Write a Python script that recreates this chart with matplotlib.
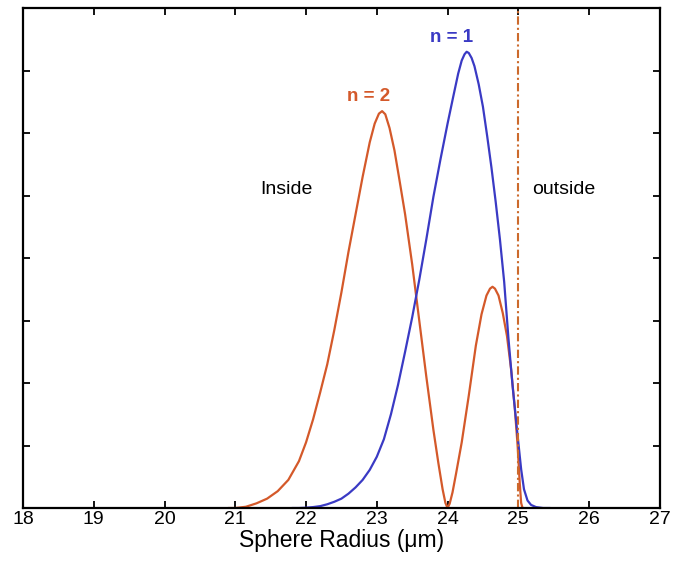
import matplotlib
matplotlib.use("Agg")
import matplotlib.pyplot as plt

# n = 2 curve (orange)
n2_x = [20.90, 21.00, 21.15, 21.30, 21.45, 21.60, 21.75, 21.90, 22.00, 22.10, 22.20, 22.30,
        22.40, 22.50, 22.60, 22.70, 22.80, 22.90, 22.97, 23.03, 23.075, 23.12, 23.18, 23.25,
        23.32, 23.40, 23.50, 23.60, 23.70, 23.80, 23.87, 23.93, 23.97, 24.00, 24.03, 24.07,
        24.12, 24.20, 24.30, 24.40, 24.48, 24.55, 24.60, 24.635, 24.67, 24.72, 24.78, 24.84,
        24.90, 24.95, 24.99, 25.02, 25.04, 25.06]
n2_y = [0.00, 0.00, 0.02, 0.075, 0.15, 0.27, 0.45, 0.75, 1.05, 1.42, 1.85, 2.30,
        2.85, 3.45, 4.10, 4.70, 5.30, 5.85, 6.15, 6.31, 6.35, 6.30, 6.08, 5.72,
        5.25, 4.70, 3.90, 3.00, 2.10, 1.25, 0.72, 0.30, 0.08, 0.00, 0.07, 0.25,
        0.55, 1.05, 1.80, 2.60, 3.10, 3.40, 3.51, 3.54, 3.51, 3.40, 3.12, 2.75,
        2.20, 1.60, 1.00, 0.40, 0.08, 0.00]

# n = 1 curve (blue)
n1_x = [21.80, 21.90, 22.00, 22.10, 22.20, 22.30, 22.40, 22.50, 22.60, 22.70, 22.80, 22.90,
        23.00, 23.10, 23.20, 23.30, 23.40, 23.50, 23.60, 23.70, 23.80, 23.90, 24.00, 24.08,
        24.15, 24.20, 24.24, 24.27, 24.30, 24.34, 24.38, 24.44, 24.50, 24.56, 24.62, 24.68,
        24.74, 24.80, 24.86, 24.92, 24.97, 25.00, 25.04, 25.08, 25.13, 25.18, 25.25, 25.35,
        25.45]
n1_y = [0.00, 0.00, 0.005, 0.015, 0.03, 0.06, 0.10, 0.15, 0.23, 0.33, 0.45, 0.61,
        0.82, 1.10, 1.50, 1.97, 2.50, 3.05, 3.65, 4.30, 4.98, 5.58, 6.15, 6.58,
        6.95, 7.16, 7.26, 7.30, 7.28, 7.20, 7.07, 6.78, 6.42, 5.95, 5.45, 4.90,
        4.30, 3.62, 2.72, 1.94, 1.38, 1.05, 0.62, 0.30, 0.12, 0.05, 0.015, 0.00,
        0.00]

boundary_x = 25.0
x_ticks = [18, 19, 20, 21, 22, 23, 24, 25, 26, 27]
y_ticks = [0, 1, 2, 3, 4, 5, 6, 7, 8]

plt.rcParams['font.family'] = ['Liberation Sans', 'DejaVu Sans']

fig = plt.figure(figsize=(6.74, 5.68), dpi=100)
ax = fig.add_axes([0.0341, 0.1056, 0.979 - 0.0341, 0.9859 - 0.1056])

blue = '#3a3ac4'
orange = '#d4592a'

ax.plot(n2_x, n2_y, color=orange, lw=1.6, solid_joinstyle='round', solid_capstyle='round')
ax.plot(n1_x, n1_y, color=blue, lw=1.6, solid_joinstyle='round', solid_capstyle='round')
ax.axvline(boundary_x, color='#cc6a2c', lw=1.5, linestyle=(0, (4, 1.5, 1, 1.5)))

ax.set_xlim(18, 27)
ax.set_ylim(0, 8)
ax.set_xticks(x_ticks)
ax.set_xticklabels([str(t) for t in x_ticks], fontsize=14)
ax.set_yticks(y_ticks)
ax.set_yticklabels([])
ax.tick_params(direction='in', length=5, width=1.3, top=True, right=True, pad=2)
for s in ax.spines.values():
    s.set_linewidth(1.6)

ax.set_xlabel('Sphere Radius (\u03bcm)', fontsize=16.5, labelpad=1)

ax.text(24.05, 7.53, 'n = 1', color=blue, fontsize=13.5, fontweight='bold', ha='center', va='center')
ax.text(22.88, 6.58, 'n = 2', color=orange, fontsize=13.5, fontweight='bold', ha='center', va='center')
ax.text(21.72, 5.10, 'Inside', fontsize=14, ha='center', va='center')
ax.text(25.64, 5.10, 'outside', fontsize=14, ha='center', va='center')

fig.savefig('out.png', dpi=100)
